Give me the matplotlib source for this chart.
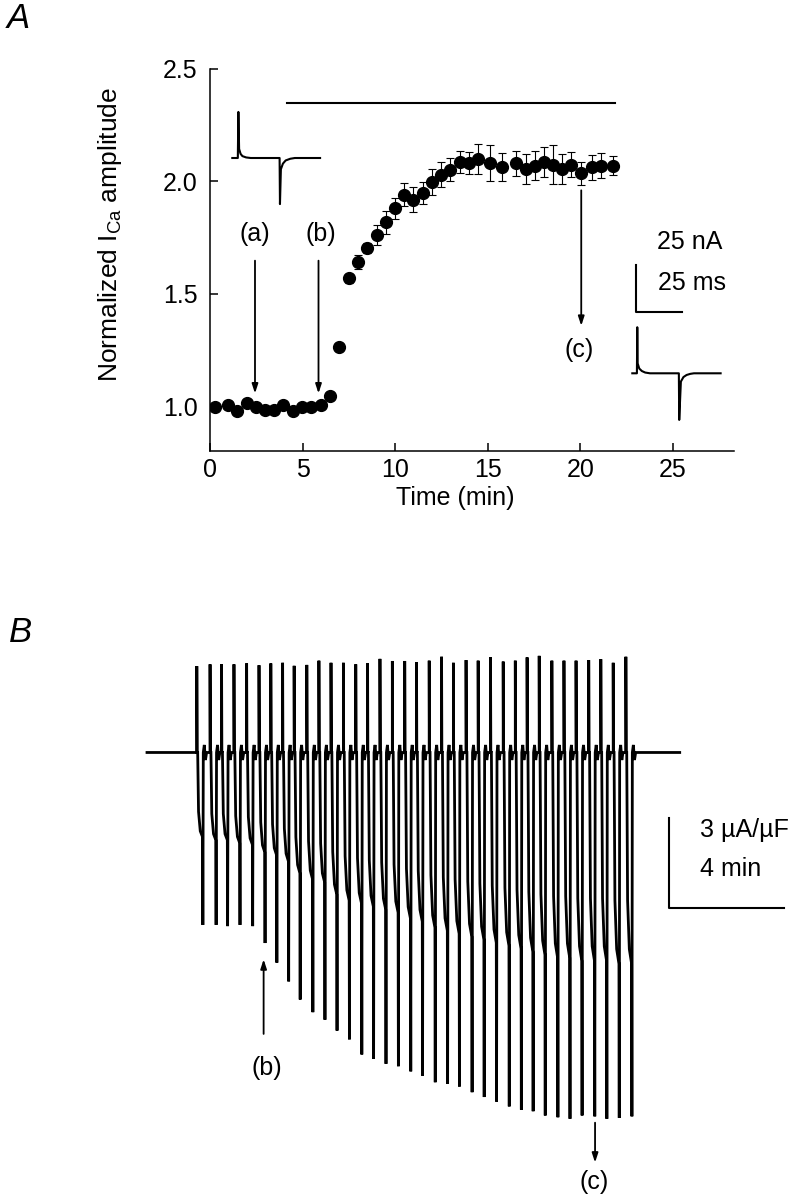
"""
Normalized ICa time course (panel A) and chart-recorder current trace (panel B).
"""

import matplotlib
matplotlib.use("Agg")
import matplotlib.pyplot as plt

plt.rcParams['font.family'] = ['Liberation Sans', 'DejaVu Sans']
plt.rcParams['mathtext.fontset'] = 'custom'
plt.rcParams['mathtext.rm'] = 'Liberation Sans'
plt.rcParams['mathtext.it'] = 'Liberation Sans:italic'

# ==============================
# PANEL A DATA
# ==============================
TIME_MIN = [0.27, 0.96, 1.48, 1.98, 2.49, 2.97, 3.46, 3.96, 4.47, 4.97,
            5.46, 5.98, 6.49, 6.99, 7.50, 8.02, 8.50, 9.01, 9.51, 9.98,
            10.47, 10.99, 11.50, 11.98, 12.49, 12.97, 13.48, 13.98, 14.47, 15.14,
            15.77, 16.54, 17.05, 17.53, 18.02, 18.52, 19.03, 19.51, 20.05, 20.63,
            21.14, 21.77]
NORM_ICA = [0.994, 1.004, 0.979, 1.012, 0.994, 0.982, 0.982, 1.006, 0.979, 0.994,
            0.994, 1.004, 1.046, 1.264, 1.568, 1.640, 1.703, 1.761, 1.817, 1.880,
            1.941, 1.919, 1.948, 1.996, 2.030, 2.052, 2.085, 2.082, 2.100, 2.082,
            2.065, 2.080, 2.055, 2.070, 2.085, 2.074, 2.055, 2.074, 2.036, 2.062,
            2.070, 2.070]
SEM = [0.01, 0.01, 0.01, 0.01, 0.01, 0.01, 0.01, 0.01, 0.01, 0.01,
       0.01, 0.01, 0.012, 0.012, 0.02, 0.03, 0.022, 0.045, 0.05, 0.047,
       0.05, 0.056, 0.047, 0.057, 0.055, 0.05, 0.05, 0.05, 0.068, 0.08,
       0.063, 0.055, 0.065, 0.065, 0.066, 0.087, 0.065, 0.055, 0.052, 0.055,
       0.057, 0.044]
X_TICKS = [0, 5, 10, 15, 20, 25]
Y_TICKS = [1.0, 1.5, 2.0, 2.5]
DRUG_BAR = (4.18, 21.9, 2.347)   # start, end, level

# example current traces (ms, nA)
TRACE_A_T = [0, 3.0, 3.3, 3.7, 4.5, 5.5, 7.5, 10.0, 25.7, 25.9, 26.4, 27.5, 29.0, 31.5, 34.0, 47.7]
TRACE_A_I = [0, 0, 24.5, 4.8, 2.2, 1.0, 0.3, 0, 0, -24.5, -6.0, -3.0, -1.3, -0.4, 0, 0]
TRACE_C_T = [0, 2.5, 2.7, 2.9, 3.8, 5.2, 7.0, 9.6, 25.3, 25.5, 26.4, 27.8, 29.5, 31.5, 33.5, 48.0]
TRACE_C_I = [0, 0, 24.5, 5.3, 2.5, 1.2, 0.4, 0, 0, -24.8, -4.4, -2.0, -0.9, -0.3, 0, 0]

# ==============================
# PANEL B DATA (min, uA/uF)
# ==============================
SWEEP_T = [1.73, 2.19, 2.59, 3.02, 3.46, 3.89, 4.30, 4.71, 5.11, 5.55,
           5.97, 6.39, 6.82, 7.25, 7.66, 8.09, 8.52, 8.95, 9.36, 9.80,
           10.23, 10.64, 11.08, 11.50, 11.93, 12.37, 12.79, 13.20, 13.62, 14.06,
           14.48, 14.90, 15.34, 15.76, 16.19, 16.63]
UP_AMP = [2.86, 2.92, 2.92, 2.92, 2.95, 2.89, 2.95, 2.97, 2.87, 2.90,
          3.04, 2.97, 2.97, 2.92, 2.95, 3.10, 3.03, 3.03, 2.99, 3.04,
          3.17, 2.97, 3.06, 3.04, 3.15, 3.01, 3.04, 3.15, 3.20, 3.04,
          3.04, 3.04, 3.06, 3.09, 2.97, 3.17]
PEAK_AMP = [5.71, 5.71, 5.75, 5.71, 5.75, 6.31, 6.96, 7.58, 8.18, 8.60,
            8.85, 9.21, 9.50, 10.00, 10.14, 10.31, 10.39, 10.56, 10.70, 10.92,
            10.97, 11.06, 11.25, 11.41, 11.56, 11.72, 11.83, 11.88, 12.02, 12.08,
            12.13, 12.02, 12.05, 12.13, 12.10, 12.05]
MID_AMP = [2.8, 2.9, 2.9, 3.0, 3.05, 3.3, 3.4, 3.6, 4.0, 4.2,
           4.3, 4.7, 4.9, 5.0, 5.1, 5.2, 5.3, 5.5, 5.6, 5.8,
           5.9, 6.0, 6.1, 6.2, 6.3, 6.4, 6.5, 6.6, 6.7, 6.8,
           6.8, 6.9, 6.9, 6.9, 7.0, 7.0]
RECORD_END = 18.5
PEAK_DELAY = 0.21

FS = 18
ARROW = dict(arrowstyle='-|>,head_length=0.55,head_width=0.18', color='black',
             lw=1.3, shrinkA=0, shrinkB=0)


def draw_panel_a(fig):
    ax = fig.add_axes([0.2625, 0.6242, 0.655, 0.3183])
    ax.errorbar(TIME_MIN, NORM_ICA, yerr=SEM, fmt='none', ecolor='black',
                elinewidth=0.8, capsize=3, capthick=0.8, zorder=2)
    ax.plot(TIME_MIN, NORM_ICA, 'o', color='black', ms=8.5, zorder=3)
    ax.plot(DRUG_BAR[:2], [DRUG_BAR[2]] * 2, color='black', lw=1.5)

    ax.set_xlim(0, 28.3)
    ax.set_ylim(0.8, 2.5)
    ax.set_xticks(X_TICKS)
    ax.set_yticks(Y_TICKS)
    ax.set_yticklabels([f"{v:.1f}" for v in Y_TICKS])
    ax.tick_params(direction='in', length=6, width=1.1, labelsize=FS)
    ax.tick_params(axis='y', pad=9)
    ax.tick_params(axis='x', pad=5)
    for side in ('top', 'right'):
        ax.spines[side].set_visible(False)
    for side in ('left', 'bottom'):
        ax.spines[side].set_linewidth(1.1)

    ax.set_xlabel('Time (min)', fontsize=FS)
    ax.xaxis.set_label_coords(0.4676, -0.093)
    ax.set_ylabel('Normalized I$_{\\mathrm{Ca}}$ amplitude', fontsize=19)
    ax.yaxis.set_label_coords(-0.165, 0.568)

    ax.annotate('', xy=(2.43, 1.056), xytext=(2.43, 1.647), arrowprops=ARROW)
    ax.annotate('', xy=(5.86, 1.056), xytext=(5.86, 1.647), arrowprops=ARROW)
    ax.annotate('', xy=(20.05, 1.357), xytext=(20.05, 1.96), arrowprops=ARROW)
    ax.text(2.43, 1.767, '(a)', fontsize=FS, ha='center', va='center')
    ax.text(6.0, 1.767, '(b)', fontsize=FS, ha='center', va='center')
    ax.text(19.96, 1.25, '(c)', fontsize=FS, ha='center', va='center')

    # trace (a)
    ins_a = fig.add_axes([228 / 800, 1 - 212 / 1200, 98 / 800, 107 / 1200])
    ins_a.plot(TRACE_A_T, TRACE_A_I, color='black', lw=1.5)
    ins_a.set_xlim(-2.34, 50.92)
    ins_a.set_ylim(-28.72, 28.19)
    ins_a.axis('off')

    # trace (c) with scale bar
    ins_c = fig.add_axes([625 / 800, 1 - 430 / 1200, 105 / 800, 200 / 1200])
    ins_c.plot(TRACE_C_T, TRACE_C_I, color='black', lw=1.5)
    ins_c.plot([1.85, 1.85, 26.85], [57.4, 32.4, 32.4], color='black', lw=1.5)
    ins_c.text(13.4, 69.8, '25 nA', fontsize=FS, ha='left', va='center')
    ins_c.text(14.1, 47.9, '25 ms', fontsize=FS, ha='left', va='center')
    ins_c.set_xlim(-3.97, 53.1)
    ins_c.set_ylim(-30.16, 76.22)
    ins_c.axis('off')


def draw_panel_b(fig):
    ax = fig.add_axes([140 / 800, 0.0, 650 / 800, 560 / 1200])
    tb = [0.0]
    ib = [0.0]
    for t0, up, mid, pk in zip(SWEEP_T, UP_AMP, MID_AMP, PEAK_AMP):
        tp = t0 + PEAK_DELAY
        tb += [t0, t0, t0 + 0.01, t0 + 0.03, t0 + 0.06, t0 + 0.12, tp - 0.01,
               tp, tp + 0.015, tp + 0.05, tp + 0.09, tp + 0.13]
        ib += [0, up, 0, 0, -0.7 * mid, -0.93 * mid, -mid,
               -pk, 0, 0.25, -0.25, 0]
    tb.append(RECORD_END)
    ib.append(0.0)
    ax.plot(tb, ib, color='black', lw=2.0, solid_joinstyle='miter')

    # scale bar
    ax.plot([18.125, 18.125, 22.125], [-2.16, -5.16, -5.16], color='black', lw=1.5)
    ax.text(19.2, -2.57, '3 µA/µF', fontsize=FS, ha='left', va='center')
    ax.text(19.2, -3.87, '4 min', fontsize=FS, ha='left', va='center')

    ax.annotate('', xy=(4.05, -6.85), xytext=(4.05, -9.32), arrowprops=ARROW)
    ax.text(4.16, -10.46, '(b)', fontsize=FS, ha='center', va='center')
    ax.annotate('', xy=(15.56, -13.58), xytext=(15.56, -12.26), arrowprops=ARROW)
    ax.text(15.52, -14.21, '(c)', fontsize=FS, ha='center', va='center')

    ax.set_xlim(-0.243, 22.33)
    ax.set_ylim(-14.82, 3.725)
    ax.axis('off')


def execute():
    fig = plt.figure(figsize=(8, 12), dpi=100)
    draw_panel_a(fig)
    draw_panel_b(fig)
    fig.text(0.009, 1 - 28 / 1200, 'A', fontsize=25, style='italic', ha='left', va='baseline')
    fig.text(0.011, 1 - 642 / 1200, 'B', fontsize=25, style='italic', ha='left', va='baseline')
    fig.savefig('out.png', dpi=100)


if __name__ == "__main__":
    execute()
